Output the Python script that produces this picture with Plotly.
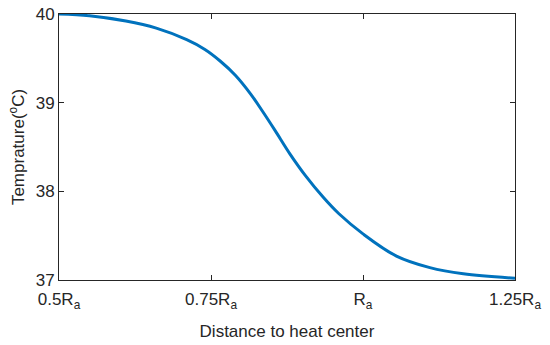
import plotly.graph_objects as go

# data (x in units of Ra, temperature in °C)
distance = [0.5, 0.55, 0.61, 0.66, 0.71, 0.74, 0.765, 0.79, 0.815, 0.835,
            0.855, 0.88, 0.905, 0.935, 0.96, 1.0, 1.055, 1.11, 1.165, 1.25]
temperature = [40.00, 39.98, 39.92, 39.84, 39.71, 39.60, 39.47, 39.31, 39.10, 38.90,
               38.69, 38.42, 38.18, 37.93, 37.75, 37.52, 37.27, 37.14, 37.07, 37.02]

x_tickvals = [0.5, 0.75, 1.0, 1.25]
x_ticktext = ["0.5R<sub>a</sub>", "0.75R<sub>a</sub>", "R<sub>a</sub>", "1.25R<sub>a</sub>"]
y_tickvals = [37, 38, 39, 40]

FONT = "Liberation Sans, Arial, sans-serif"
INK = "#262626"

fig = go.Figure()
fig.add_trace(go.Scatter(
    x=distance, y=temperature, mode="lines",
    line=dict(color="#0072BD", width=3, shape="spline", smoothing=1.0),
    showlegend=False,
))

axis_common = dict(
    showline=True, linecolor=INK, linewidth=1, mirror="allticks",
    ticks="inside", ticklen=5, tickcolor=INK, showgrid=False, zeroline=False,
    automargin=False,
    tickfont=dict(family=FONT, size=17, color=INK),
)

fig.update_layout(
    width=550, height=345,
    margin=dict(l=59, r=35, t=14, b=65),
    paper_bgcolor="white", plot_bgcolor="white",
    font=dict(family=FONT, size=17, color=INK),
    xaxis=dict(range=[0.5, 1.25], tickvals=x_tickvals, ticktext=x_ticktext,
               ticklabelstandoff=4,
               title=dict(text="Distance to heat center", standoff=14,
                          font=dict(size=17)), **axis_common),
    yaxis=dict(range=[37, 40], tickvals=y_tickvals,
               title=dict(text="Temprature(<sup>o</sup>C)", standoff=6,
                          font=dict(size=17)), **axis_common),
)

fig.write_html("out.html", config={"displayModeBar": False},
               post_script="document.body.style.margin='0';")
